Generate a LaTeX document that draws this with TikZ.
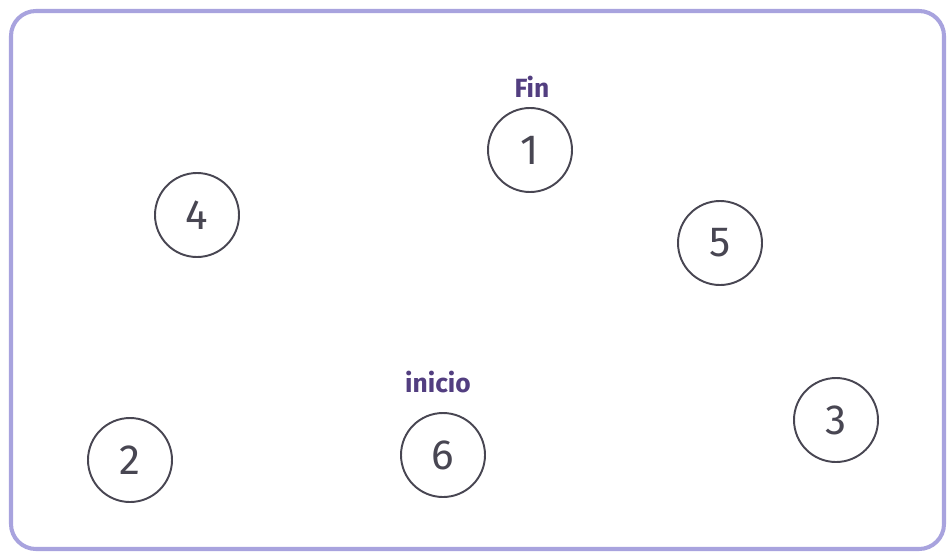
\documentclass[tikz,border=0pt]{standalone}
\usepackage{fontspec}
\setmainfont{Fira Sans}
\definecolor{frame}{RGB}{168,163,222}
\definecolor{ink}{RGB}{72,70,82}
\definecolor{tag}{RGB}{82,62,128}
\begin{document}
\begin{tikzpicture}[
    num/.style={circle,draw=ink,line width=1.1pt,minimum size=1.68cm,
        text=ink,font=\fontsize{24}{24}\selectfont\addfontfeatures{FakeBold=0}},
    tagtext/.style={text=tag,font=\fontsize{15}{15}\selectfont\bfseries}]
    \useasboundingbox (0,0) rectangle (19,11.1);
    \draw[frame,line width=2.3pt,rounded corners=0.5cm] (0.22,0.12) rectangle (18.88,10.88);
    \node[num] (n1) at (10.6,8.1) {1};
    \node[num] (n4) at (3.94,6.8) {4};
    \node[num] (n5) at (14.4,6.24) {5};
    \node[num] (n2) at (2.6,1.9) {2};
    \node[num] (n6) at (8.86,2.0) {6};
    \node[num] (n3) at (16.72,2.7) {3};
    \node[tagtext] (fin) at (10.64,9.36) {Fin};
    \node[tagtext] (inicio) at (8.76,3.46) {inicio};
\end{tikzpicture}
\end{document}
